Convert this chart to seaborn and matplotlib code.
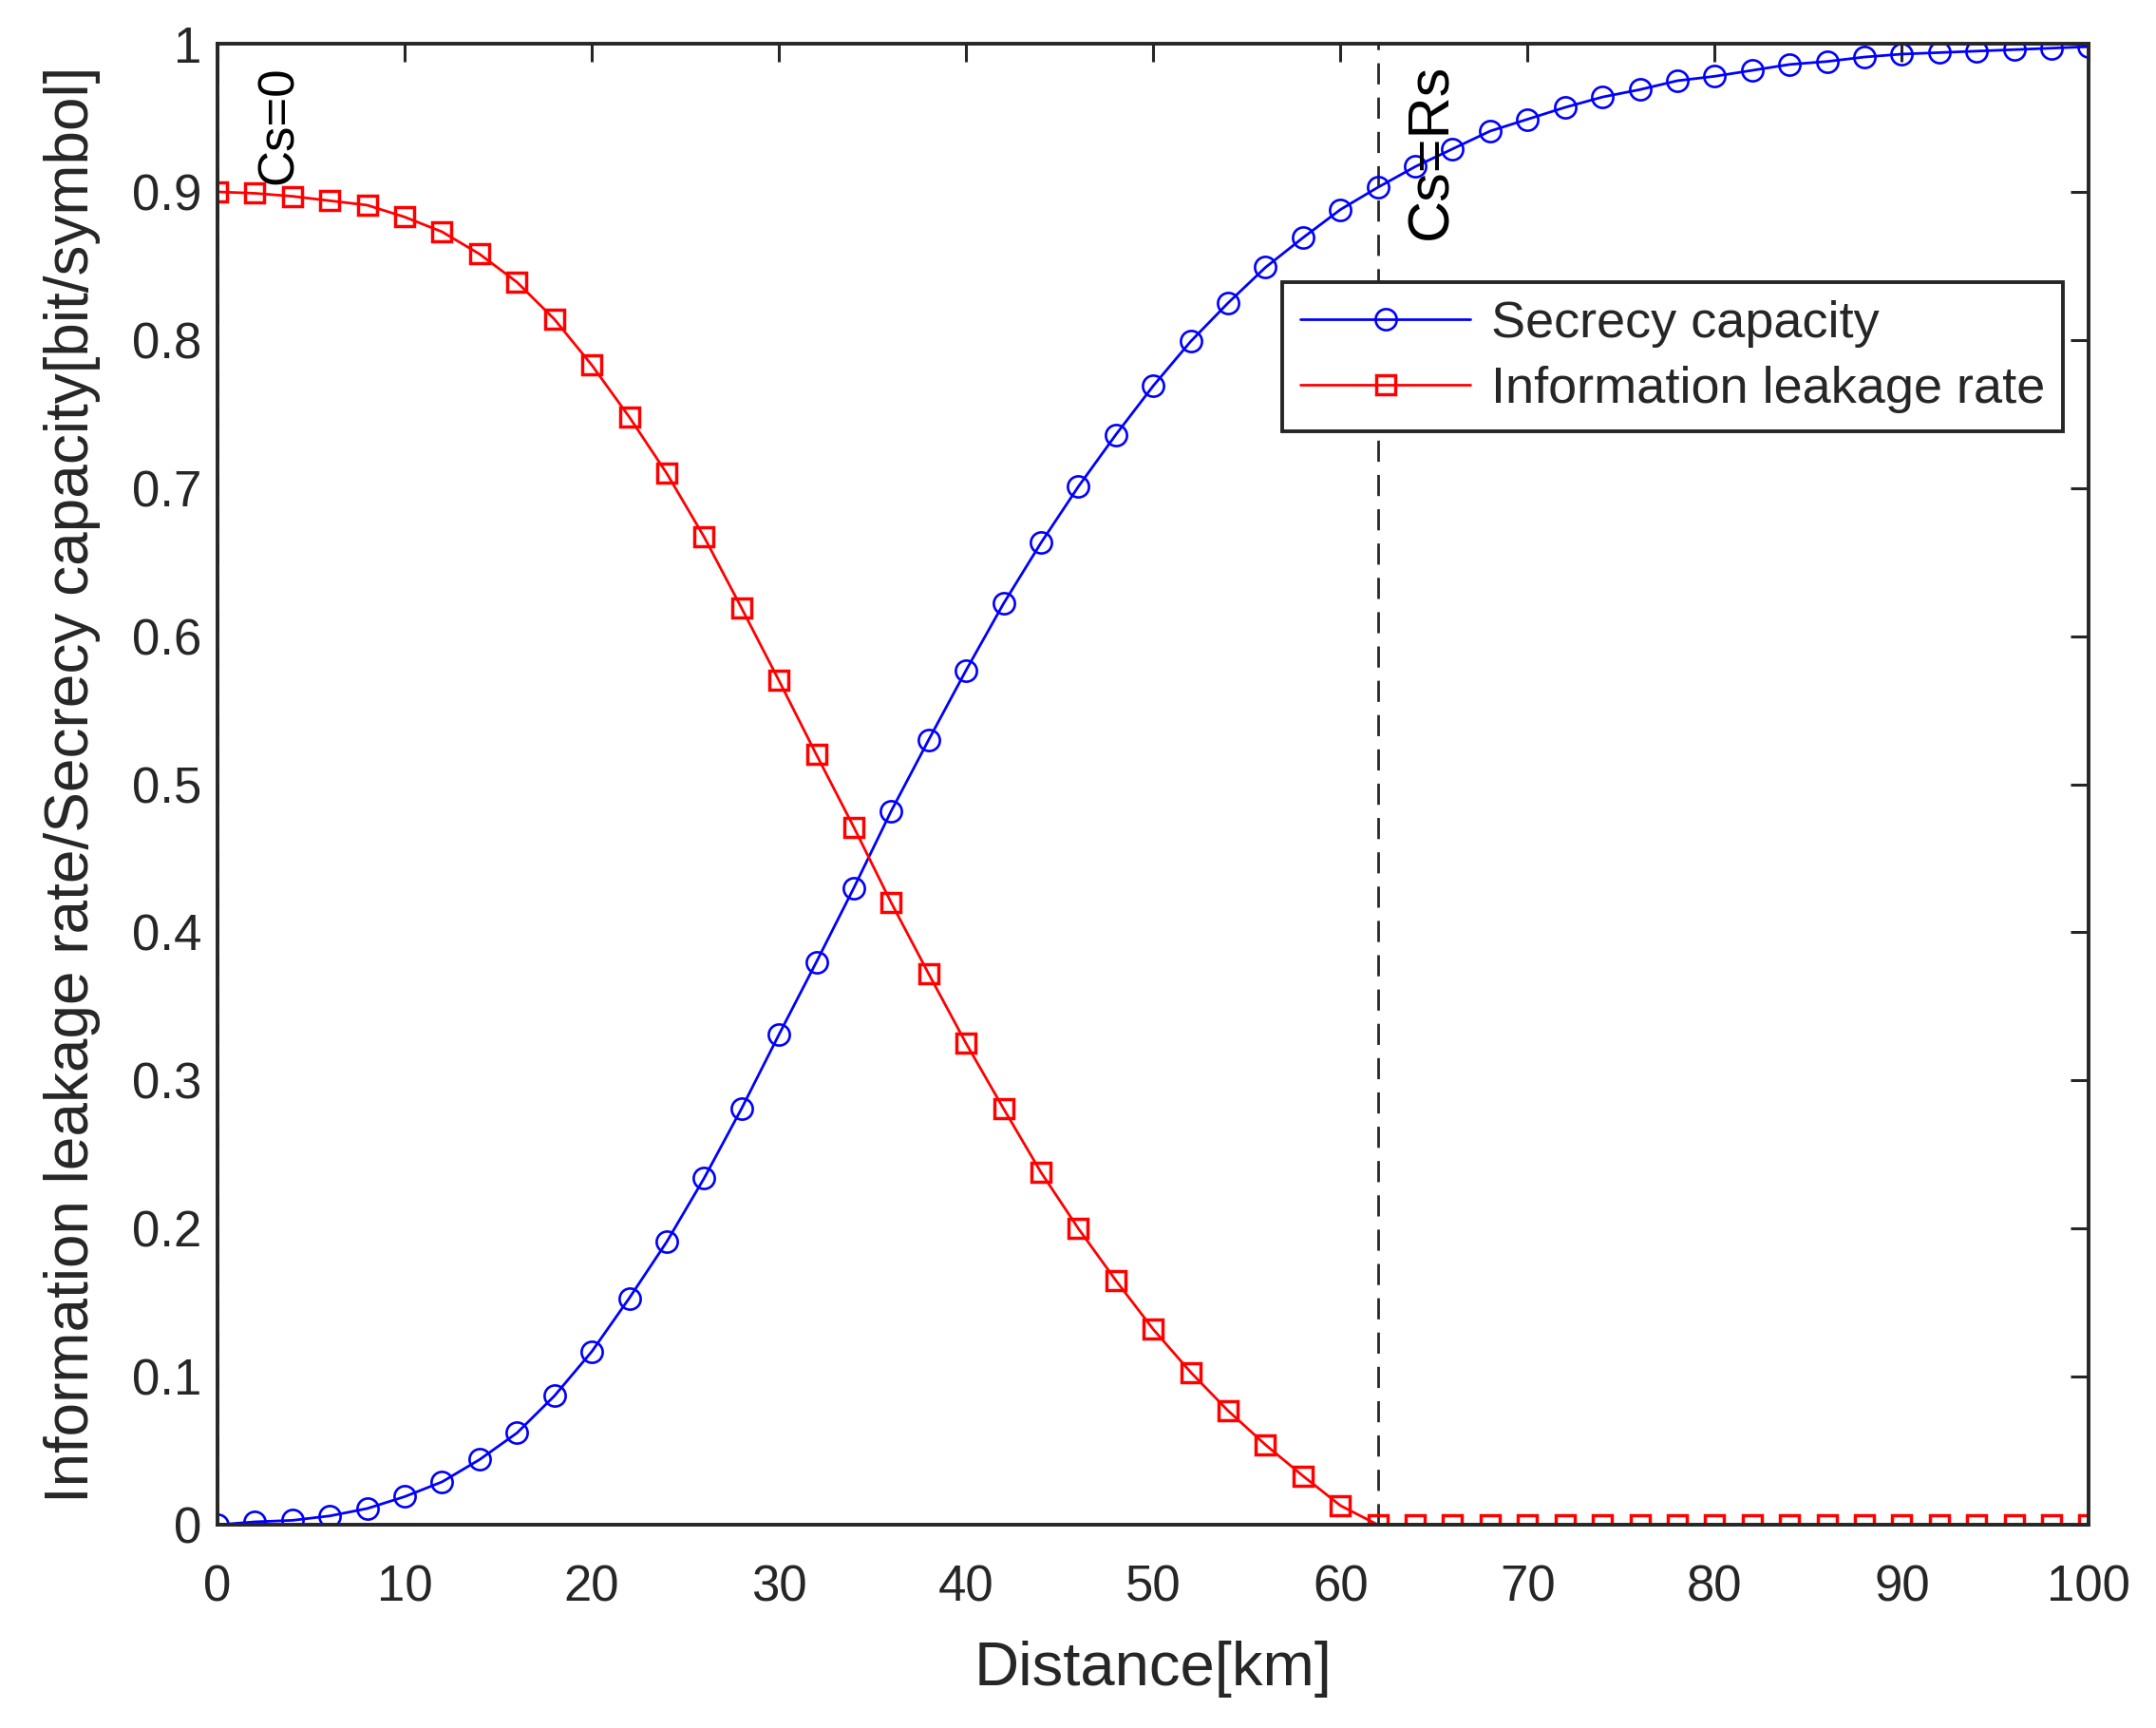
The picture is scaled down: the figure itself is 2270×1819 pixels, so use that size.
import numpy as np
import pandas as pd
import seaborn as sns
import matplotlib
matplotlib.use("Agg")
import matplotlib.pyplot as plt

# distance grid (km) and values
distance = list(range(0, 101, 2))

secrecy = [0.000, 0.002, 0.003, 0.006, 0.011, 0.019, 0.029, 0.044, 0.062, 0.087,
           0.117, 0.153, 0.191, 0.234, 0.281, 0.331, 0.380, 0.430, 0.482, 0.530,
           0.577, 0.622, 0.663, 0.701, 0.736, 0.769, 0.799, 0.825, 0.849, 0.869,
           0.888, 0.903, 0.917, 0.929, 0.941, 0.949, 0.957, 0.964, 0.969, 0.975,
           0.978, 0.982, 0.986, 0.988, 0.991, 0.993, 0.994, 0.995, 0.996, 0.997,
           0.998]

leakage = [0.900, 0.899, 0.897, 0.894, 0.891, 0.883, 0.873, 0.858, 0.839, 0.814,
           0.783, 0.748, 0.710, 0.667, 0.619, 0.570, 0.520, 0.471, 0.420, 0.372,
           0.325, 0.281, 0.238, 0.200, 0.165, 0.132, 0.103, 0.077, 0.054, 0.033,
           0.013, 0.0, 0.0, 0.0, 0.0, 0.0, 0.0, 0.0, 0.0, 0.0,
           0.0, 0.0, 0.0, 0.0, 0.0, 0.0, 0.0, 0.0, 0.0, 0.0,
           0.0]

vlines = [0, 62]
annotations = [("Cs=0", 3.3, 0.905, 38), ("Cs=Rs", 64.9, 0.868, 44)]

df = pd.DataFrame({"Distance": distance, "Secrecy capacity": secrecy,
                   "Information leakage rate": leakage})

sns.set_style("white")
plt.rcParams["font.family"] = ["Liberation Sans", "DejaVu Sans"]

fig = plt.figure(figsize=(22.7, 18.19), dpi=100)
ax = fig.add_axes([0.1009, 0.1176, 0.8680, 0.8571])

sns.lineplot(data=df, x="Distance", y="Secrecy capacity", ax=ax, color="#0000ff",
             marker="o", markersize=16, markerfacecolor="none", markeredgecolor="#0000ff",
             markeredgewidth=1.9, linewidth=2.0, label="Secrecy capacity")
sns.lineplot(data=df, x="Distance", y="Information leakage rate", ax=ax, color="#ff0000",
             marker="s", markersize=14.5, markerfacecolor="none", markeredgecolor="#ff0000",
             markeredgewidth=2.5, linewidth=2.0, label="Information leakage rate")

for xv in vlines:
    ax.axvline(xv, color="#262626", linestyle=(0, (8, 5)), linewidth=2.0, zorder=1)

for txt, xv, yv, fs in annotations:
    ax.text(xv, yv, txt, rotation=90, ha="center", va="bottom", fontsize=fs, color="black")

ax.set_xlim(0, 100)
ax.set_ylim(0, 1)
ax.set_xticks(np.arange(0, 101, 10))
ax.set_yticks(np.arange(0, 1.01, 0.1))
ax.set_yticklabels(["0", "0.1", "0.2", "0.3", "0.4", "0.5", "0.6", "0.7", "0.8", "0.9", "1"])
ax.tick_params(direction="in", length=14, width=2.2, labelsize=38, colors="#262626",
               top=True, right=True)
ax.tick_params(axis="x", pad=30)
ax.tick_params(axis="y", pad=12)
for sp in ax.spines.values():
    sp.set_color("#262626")
    sp.set_linewidth(2.8)

ax.set_xlabel("Distance[km]", fontsize=47, color="#262626", labelpad=22)
ax.set_ylabel("Information leakage rate/Secrecy capacity[bit/symbol]", fontsize=46,
              color="#262626", labelpad=24)

leg = ax.legend(loc="upper right", bbox_to_anchor=(0.986, 0.839), fontsize=39,
                frameon=True, fancybox=False, edgecolor="#262626", framealpha=1,
                borderpad=0.35, handlelength=3.3, labelspacing=0.35, handletextpad=0.4,
                borderaxespad=0)
leg.get_frame().set_linewidth(2.8)

fig.savefig("out.png", dpi=100)
plt.close(fig)
